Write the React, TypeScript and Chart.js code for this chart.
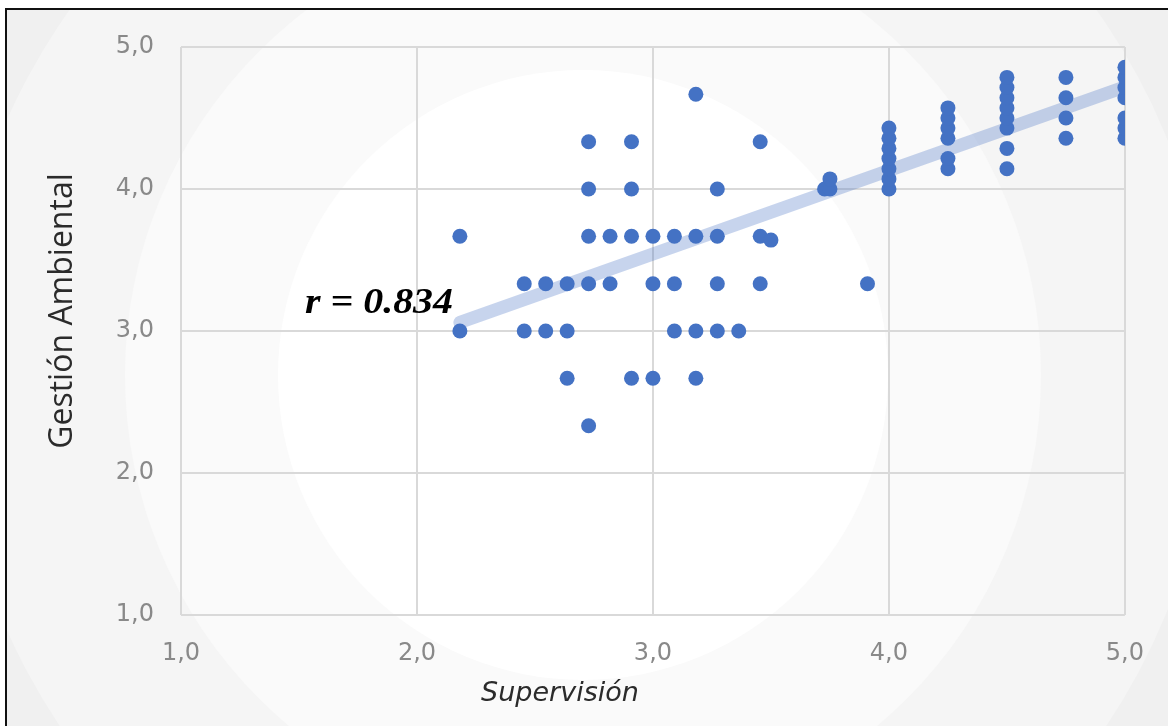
import React, { useEffect, useRef } from "react";
import { Chart, registerables } from "chart.js";

Chart.register(...registerables);

// Supervisión (x) values of each respondent
const supervision: number[] = [
  2.1818, 2.1818,
  2.4545, 2.4545,
  2.5455, 2.5455,
  2.6364, 2.6364, 2.6364,
  2.7273, 2.7273, 2.7273, 2.7273, 2.7273,
  2.8182, 2.8182,
  2.9091, 2.9091, 2.9091, 2.9091,
  3.0, 3.0, 3.0,
  3.0909, 3.0909, 3.0909,
  3.1818, 3.1818, 3.1818, 3.1818,
  3.2727, 3.2727, 3.2727, 3.2727,
  3.3636,
  3.4545, 3.4545, 3.4545,
  3.5,
  3.7273,
  3.75, 3.75,
  3.9091,
  4.0, 4.0, 4.0, 4.0, 4.0, 4.0, 4.0,
  4.25, 4.25, 4.25, 4.25, 4.25, 4.25,
  4.5, 4.5, 4.5, 4.5, 4.5, 4.5, 4.5, 4.5,
  4.75, 4.75, 4.75, 4.75,
  5.0, 5.0, 5.0, 5.0, 5.0, 5.0, 5.0,
];

// Gestión Ambiental (y) values, same order
const gestion: number[] = [
  3.667, 3.0,
  3.333, 3.0,
  3.333, 3.0,
  3.333, 3.0, 2.667,
  4.333, 4.0, 3.667, 3.333, 2.333,
  3.667, 3.333,
  4.333, 4.0, 3.667, 2.667,
  3.667, 3.333, 2.667,
  3.667, 3.333, 3.0,
  4.667, 3.667, 3.0, 2.667,
  4.0, 3.667, 3.333, 3.0,
  3.0,
  4.333, 3.667, 3.333,
  3.64,
  4.0,
  4.0, 4.071,
  3.333,
  4.0, 4.071, 4.143, 4.214, 4.286, 4.357, 4.429,
  4.143, 4.214, 4.357, 4.429, 4.5, 4.571,
  4.143, 4.286, 4.429, 4.5, 4.571, 4.643, 4.714, 4.786,
  4.357, 4.5, 4.643, 4.786,
  4.357, 4.429, 4.5, 4.643, 4.714, 4.786, 4.857,
];

// Linear trend line end points
const trendX: number[] = [2.1818, 5.0];
const trendY: number[] = [3.06, 4.72];

const axisMin = 1;
const axisMax = 5;
const axisStep = 1;

const xTitle = "Supervisión";
const yTitle = "Gestión Ambiental";
const rLabel = "r = 0.834";

const fmt = (v: number | string) => Number(v).toFixed(1).replace(".", ",");

const backgroundPlugin = {
  id: "bgRings",
  beforeDraw(chart: any) {
    const { ctx, width, height } = chart;
    ctx.save();
    ctx.fillStyle = "#ffffff";
    ctx.fillRect(0, 0, width, height);
    ctx.beginPath();
    ctx.rect(7, 10, width - 7, height - 10);
    ctx.clip();
    ctx.fillStyle = "#f0f0f0";
    ctx.fillRect(0, 0, width, height);
    const cx = 583;
    const cy = 375;
    const rings: [number, string][] = [
      [630, "#f5f5f5"],
      [458, "#fafafa"],
      [305, "#ffffff"],
    ];
    for (const [r, c] of rings) {
      ctx.beginPath();
      ctx.arc(cx, cy, r, 0, Math.PI * 2);
      ctx.fillStyle = c;
      ctx.fill();
    }
    ctx.restore();
    ctx.save();
    ctx.fillStyle = "#111111";
    ctx.fillRect(5, 8, width - 5, 2);
    ctx.fillRect(5, 8, 2, height - 8);
    ctx.restore();
  },
};

const textPlugin = {
  id: "texts",
  afterDraw(chart: any) {
    const { ctx } = chart;
    ctx.save();
    // x axis title
    ctx.fillStyle = "#2b2b2b";
    ctx.font = 'italic 27px "DejaVu Sans"';
    ctx.textAlign = "center";
    ctx.textBaseline = "alphabetic";
    ctx.fillText(xTitle, 560, 701);
    // y axis title
    ctx.save();
    ctx.translate(72, 311);
    ctx.rotate(-Math.PI / 2);
    ctx.font = '32px "Open Sans"';
    ctx.textAlign = "center";
    ctx.fillText(yTitle, 0, 0);
    ctx.restore();
    // correlation label
    ctx.font = 'bold italic 36px "Liberation Serif"';
    ctx.textAlign = "left";
    ctx.fillStyle = "#000000";
    const w = ctx.measureText(rLabel).width;
    ctx.translate(305, 313);
    ctx.scale(148 / w, 1);
    ctx.fillText(rLabel, 0, 0);
    ctx.restore();
  },
};

export default function App() {
  const ref = useRef<HTMLCanvasElement | null>(null);
  useEffect(() => {
    if (!ref.current) return;
    const points = supervision.map((x, i) => ({ x, y: gestion[i] }));
    const trend = trendX.map((x, i) => ({ x, y: trendY[i] }));
    const tickFont = { family: '"DejaVu Sans"', size: 24 };
    const chart = new Chart(ref.current, {
      type: "scatter",
      data: {
        datasets: [
          {
            label: "Datos",
            data: points,
            backgroundColor: "#4472C4",
            borderColor: "#4472C4",
            borderWidth: 0,
            pointRadius: 7.5,
            pointHoverRadius: 7.5,
          },
          {
            label: "Tendencia",
            data: trend,
            showLine: true,
            borderColor: "rgba(68,114,196,0.3)",
            borderWidth: 13,
            borderCapStyle: "round",
            pointRadius: 0,
            pointHoverRadius: 0,
          } as any,
        ],
      },
      options: {
        responsive: false,
        animation: false,
        layout: { padding: { left: 0, right: 43, top: 47, bottom: 0 } },
        plugins: {
          legend: { display: false },
          tooltip: { enabled: false },
        },
        scales: {
          x: {
            type: "linear",
            min: axisMin,
            max: axisMax,
            ticks: {
              stepSize: axisStep,
              callback: (v: any) => fmt(v),
              color: "#898989",
              font: tickFont,
              padding: 24,
              maxRotation: 0,
            },
            grid: { color: "#d9d9d9", lineWidth: 2, drawTicks: false },
            border: { display: false },
            afterFit: (s: any) => {
              s.height = 111;
            },
          },
          y: {
            type: "linear",
            min: axisMin,
            max: axisMax,
            ticks: {
              stepSize: axisStep,
              callback: (v: any) => fmt(v),
              color: "#898989",
              font: tickFont,
              padding: 27,
            },
            grid: { color: "#d9d9d9", lineWidth: 2, drawTicks: false },
            border: { display: false },
            afterFit: (s: any) => {
              s.width = 181;
            },
          },
        },
      },
      plugins: [backgroundPlugin, textPlugin],
    });
    return () => chart.destroy();
  }, []);

  return (
    <div style={{ position: "absolute", left: 0, top: 0, width: 1168, height: 726, overflow: "hidden" }}>
      <canvas ref={ref} width={1168} height={726} style={{ display: "block" }} />
    </div>
  );
}
